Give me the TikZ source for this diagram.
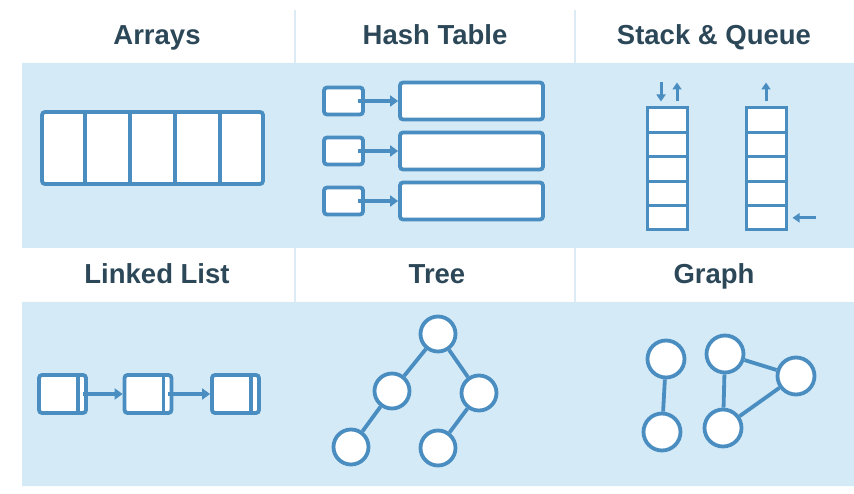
\documentclass[tikz,border=0pt]{standalone}
\usepackage{fontspec}
\setmainfont{Liberation Sans}
\usepackage{tikz}
\usetikzlibrary{arrows.meta,calc}
\definecolor{bandblue}{HTML}{D4EAF7}
\definecolor{inkblue}{HTML}{4A8DC0}
\definecolor{titleink}{HTML}{2C4858}
\definecolor{rulecol}{HTML}{DDEBF4}
\tikzset{
	hdr/.style={font=\bfseries\fontsize{27.5}{32}\selectfont,text=titleink,anchor=base},
	box/.style={draw=inkblue,fill=white,line width=3.8pt,rounded corners=3pt,inner sep=0pt},
	cell/.style={draw=inkblue,fill=white,line width=3pt,minimum width=40pt,minimum height=24.4pt,inner sep=0pt},
	vert/.style={draw=inkblue,fill=white,line width=3.8pt,circle,inner sep=0pt,minimum size=35pt},
	lnk/.style={draw=inkblue,line width=3.8pt},
	ptr/.style={draw=inkblue,line width=3.5pt,-{Triangle[length=8pt,width=11pt]}},
	tip/.style={draw=inkblue,line width=3pt,-{Triangle[length=7pt,width=9pt]}}
}

\begin{document}
\begin{tikzpicture}[x=1pt,y=-1pt]
	\useasboundingbox (0,0) rectangle (854,494);
	% bands and column rules
	\fill[bandblue] (22,63) rectangle (854,248) (22,302) rectangle (854,486);
	\draw[rulecol,line width=1.5pt] (295,10) -- (295,63) (575,10) -- (575,63)
		(295,248) -- (295,302) (575,248) -- (575,302);
	% titles
	\node[hdr] (tArr) at (157,45) {Arrays};
	\node[hdr] (tHash) at (435,45) {Hash Table};
	\node[hdr] (tSQ) at (714,45) {Stack \& Queue};
	\node[hdr] (tLL) at (157,284) {Linked List};
	\node[hdr] (tTree) at (437,284) {Tree};
	\node[hdr] (tGraph) at (714,284) {Graph};
	% arrays
	\node[box,minimum width=221pt,minimum height=72pt] (arr) at (152.5,148) {};
	\foreach \i in {1,...,4}
		\draw[lnk] ($(arr.north west)!\i/5!(arr.north east)$) -- ($(arr.south west)!\i/5!(arr.south east)$);
	% hash table
	\foreach \i/\y in {1/101,2/151,3/201} {
		\node[box,minimum width=39pt,minimum height=27pt] (hk\i) at (343.5,\y) {};
		\node[box,minimum width=143pt,minimum height=37pt] (hv\i) at (471.5,\y) {};
		\draw[ptr] ([xshift=-7pt]hk\i.east) -- (hv\i.west);
	}
	% stack and queue
	\foreach \i in {1,...,5} {
		\node[cell] (s\i) at (667.5,{95.8+24.4*\i}) {};
		\node[cell] (q\i) at (766,{95.8+24.4*\i}) {};
	}
	\draw[tip] ([xshift=-6.5pt,yshift=24pt]s1.north) -- ([xshift=-6.5pt,yshift=5pt]s1.north);
	\draw[tip] ([xshift=9.5pt,yshift=5pt]s1.north) -- ([xshift=9.5pt,yshift=24pt]s1.north);
	\draw[tip] ([yshift=5pt]q1.north) -- ([yshift=24pt]q1.north);
	\draw[tip] ([xshift=28pt]q5.east) -- ([xshift=5pt]q5.east);
	% linked list
	\foreach \i/\x in {1/62.5,2/148,3/235.5}
		\node[box,minimum width=47pt,minimum height=38pt] (l\i) at (\x,394) {};
	\foreach \i in {1,2,3}
		\draw[lnk] ([xshift=-10pt]l\i.north east) -- ([xshift=-10pt]l\i.south east);
	\draw[ptr] ([xshift=-5pt]l1.east) -- (l2.west);
	\draw[ptr] ([xshift=-5pt]l2.east) -- (l3.west);
	% tree
	\node[vert] (root) at (438,334) {};
	\node[vert] (tl) at (392,391) {};
	\node[vert] (tr) at (479,393) {};
	\node[vert] (tll) at (351,447) {};
	\node[vert] (trl) at (438,448) {};
	\path[lnk] (root) edge (tl) edge (tr)
		(tl) edge (tll)
		(tr) edge (trl);
	% graph
	\node[vert,minimum size=37pt] (ga) at (666,359) {};
	\node[vert,minimum size=37pt] (gb) at (662,432) {};
	\node[vert,minimum size=37pt] (gc) at (725,354) {};
	\node[vert,minimum size=37pt] (gd) at (723,428) {};
	\node[vert,minimum size=37pt] (ge) at (796,376) {};
	\path[lnk] (ga) edge (gb)
		(gc) edge (gd) edge (ge)
		(gd) edge (ge);
\end{tikzpicture}
\end{document}
